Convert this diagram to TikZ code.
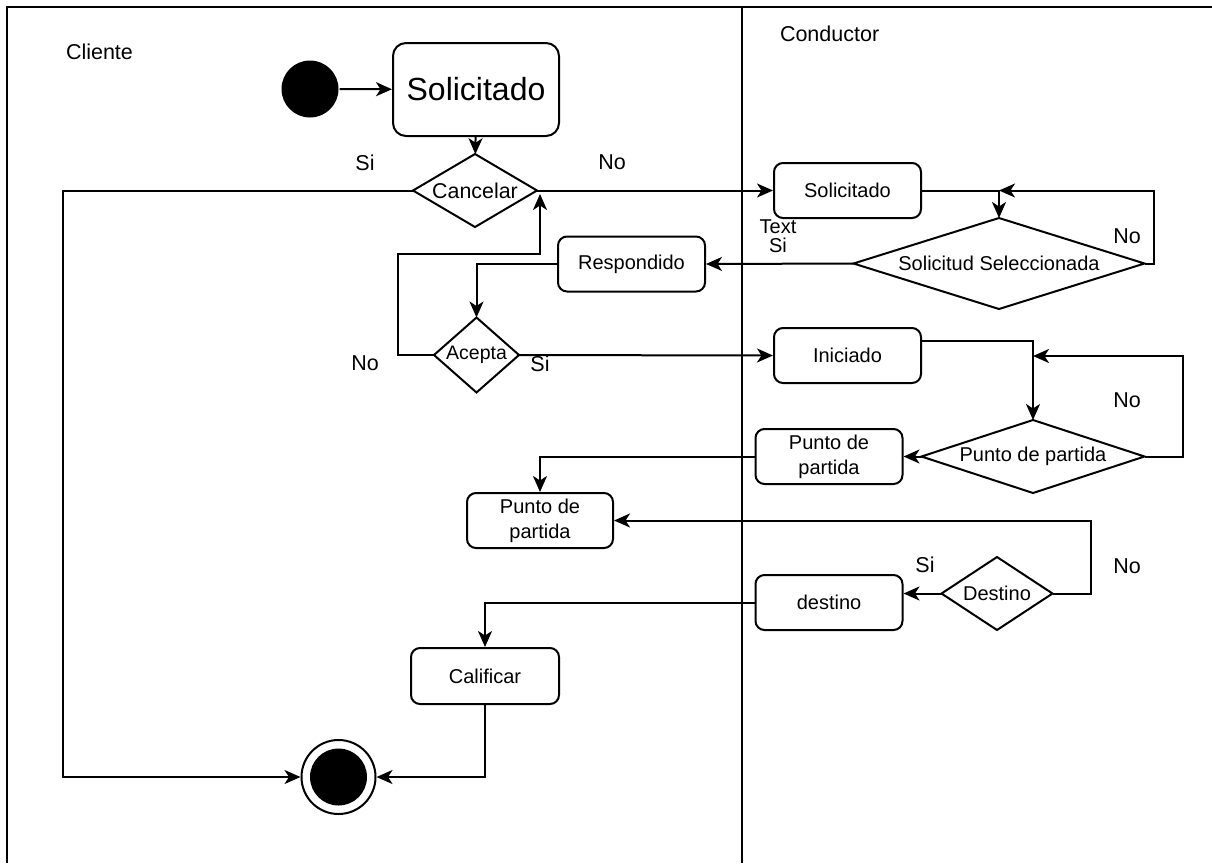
\documentclass[tikz,border=0pt]{standalone}
\usepackage{fontspec}
\setmainfont{Liberation Sans}
\usetikzlibrary{arrows.meta,shapes.geometric,calc}

\begin{document}
\begin{tikzpicture}[x=1pt,y=-1pt,
  line width=2pt,
  arr/.style={-{Stealth[length=16pt,width=14pt,inset=4.5pt]}},
  box/.style={draw,rounded corners=9pt,minimum width=147pt,minimum height=55pt,
    inner sep=0pt,align=center,font=\fontsize{20}{25}\selectfont},
  decision/.style={draw,diamond,inner sep=0pt,outer sep=0pt},
  dtext/.style={font=\fontsize{20}{24}\selectfont},
  lbl/.style={font=\fontsize{21.5}{24}\selectfont,inner sep=0pt}
]
\useasboundingbox (0,0) rectangle (1212,863);

% swimlanes
\draw[line width=1.8pt] (7,863) -- (7,7) -- (1212,7);
\draw[line width=1.8pt] (742,7) -- (742,863);
\node[lbl,anchor=west] (lane1) at (65,52) {Cliente};
\node[lbl,anchor=west] (lane2) at (779,34) {Conductor};

% client lane
\node[circle,fill=black,minimum size=57pt,inner sep=0pt] (start) at (310,89) {};
\node[box,minimum width=166pt,minimum height=93pt,rounded corners=13pt,
  font=\fontsize{32}{36}\selectfont] (sol) at (476,89.5) {Solicitado};
\node[decision,minimum width=124pt,minimum height=73pt,
  label={[dtext,font=\fontsize{21.4}{24}\selectfont]center:Cancelar}] (cancel) at (475,190.5) {};
\node[box] (resp) at (631.5,264) {Respondido};
\node[decision,minimum width=85pt,minimum height=75pt,
  label={[dtext,font=\fontsize{19.5}{24}\selectfont]center:Acepta}] (acepta) at (476.5,355) {};
\node[box,minimum width=146pt] (pbox1) at (540,520.5) {Punto de\\partida};
\node[box,minimum width=148pt,minimum height=56pt] (cal) at (485,676) {Calificar};
\node[circle,draw,fill=white,minimum size=74pt,inner sep=0pt] (final) at (338.5,777) {};
\node[circle,fill=black,minimum size=57pt,inner sep=0pt] (finalin) at (338.5,777) {};

% conductor lane
\node[box] (sol2) at (847.5,190.5) {Solicitado};
\node[decision,minimum width=291pt,minimum height=91pt,
  label={[dtext]center:Solicitud Seleccionada}] (ssel) at (999,263.5) {};
\node[box] (ini) at (847.5,355.5) {Iniciado};
\node[decision,minimum width=223pt,minimum height=73pt,
  label={[dtext]center:Punto de partida}] (pdiam) at (1033,456.5) {};
\node[box] (pbox2) at (829,456.5) {Punto de\\partida};
\node[decision,minimum width=111pt,minimum height=73pt,
  label={[dtext]center:Destino}] (dest) at (997,593.5) {};
\node[box] (destbox) at (829,602.5) {destino};

% bend points of the loops
\coordinate (j1) at (999,190.5);
\coordinate (r1) at (1154,190.5);
\coordinate (l1) at (398,254);
\coordinate (l2) at (540,194);
\coordinate (c1) at (63,777);
\coordinate (j2) at (1033,356);
\coordinate (r2) at (1183,356);
\coordinate (r3) at (1090.6,520.5);

% connectors
\draw[arr] (start) -- (sol);
\draw[arr] (sol) -- (cancel);
\draw[arr] (cancel.west) -| (c1) -- (final.west);
\draw[arr] (cancel.east) -- (sol2.west);
\draw[arr] (sol2.east) -| (ssel.north);
\draw[arr] (ssel.east) -| (r1) -- (j1);
\draw[arr] (ssel.west) -- (resp.east);
\draw[arr] (resp.west) -| (acepta.north);
\draw[arr] (acepta.west) -| (l1) -| (l2);
\draw[arr] (acepta.east) -- (ini.west);
\draw[arr] ($(ini.north east)!0.25!(ini.south east)$) -| (pdiam.north);
\draw[arr] (pdiam.east) -| (r2) -- (j2);
\draw[arr] (pdiam.west) -- (pbox2.east);
\draw[arr] (pbox2.west) -| (pbox1.north);
\draw[arr] (dest.east) -| (r3) -- (pbox1.east);
\draw[arr] (dest.west) -- (destbox.east |- dest.west);
\draw[arr] (destbox.west) -| (cal.north);
\draw[arr] (cal.south) |- (final.east);

% guard labels
\node[lbl] (t1) at (365,163) {Si};
\node[lbl] (t2) at (612,162) {No};
\node[font=\fontsize{20}{19}\selectfont,align=center,inner sep=0pt] (t3) at (778,236) {Text\\Si};
\node[lbl] (t4) at (1127,236) {No};
\node[lbl] (t5) at (365,363) {No};
\node[lbl] (t6) at (540,364) {Si};
\node[lbl] (t7) at (1127,400) {No};
\node[lbl] (t8) at (925,565) {Si};
\node[lbl] (t9) at (1127,566) {No};
\end{tikzpicture}
\end{document}
